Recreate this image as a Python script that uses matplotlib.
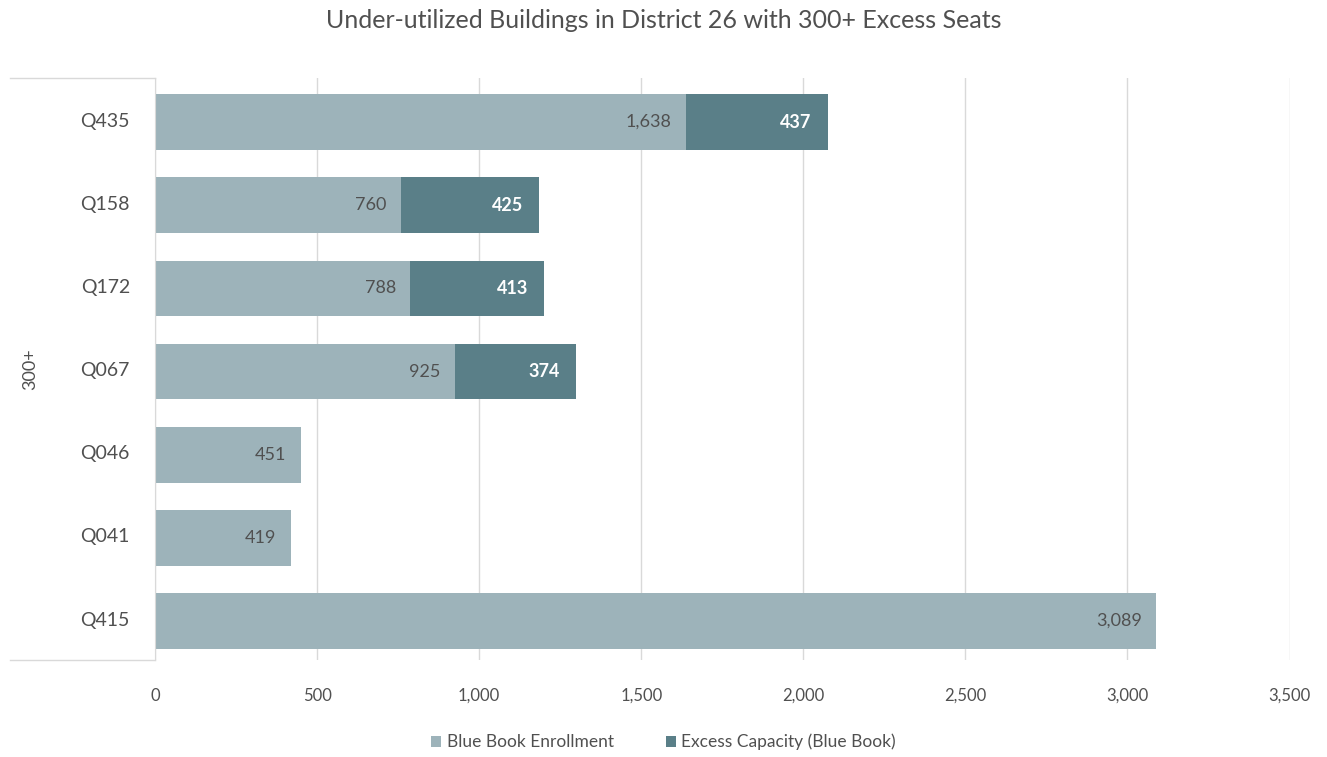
import numpy as np
import matplotlib.pyplot as plt
from matplotlib.lines import Line2D

plt.rcParams['font.family'] = ['Lato', 'DejaVu Sans']

# データ
buildings = ['Q435', 'Q158', 'Q172', 'Q067', 'Q046', 'Q041', 'Q415']
enrollment = [1638, 760, 788, 925, 451, 419, 3089]
excess = [437, 425, 413, 374, 0, 0, 0]
group_label = '300+'
xticks = [0, 500, 1000, 1500, 2000, 2500, 3000, 3500]

c_light = '#9db3ba'
c_dark = '#5a7f88'
txt = '#505050'

fig = plt.figure(figsize=(13.27, 7.57), dpi=100)
ax = fig.add_axes([0.1168, 0.128, 0.855, 0.769])

y = np.arange(len(buildings))
b1 = ax.barh(y + 0.03, enrollment, height=0.67, color=c_light, label='Blue Book Enrollment')
b2 = ax.barh(y + 0.03, excess, height=0.67, left=enrollment, color=c_dark,
             label='Excess Capacity (Blue Book)')

for i in range(len(buildings)):
    ax.text(enrollment[i] - 45, y[i] + 0.03, '{:,}'.format(enrollment[i]), ha='right',
            va='center', fontsize=13, color=txt)
    if excess[i] > 0:
        ax.text(enrollment[i] + excess[i] - 50, y[i] + 0.03, '{:,}'.format(excess[i]),
                ha='right', va='center', fontsize=13, color='white', fontweight='bold')

ax.set_ylim(len(buildings) - 0.5, -0.5)
ax.set_xlim(0, 3500)
ax.set_yticks(y)
ax.set_yticklabels(buildings, fontsize=14, color=txt)
ax.set_xticks(xticks)
ax.set_xticklabels(['{:,}'.format(v) for v in xticks], fontsize=12, color=txt)
ax.tick_params(axis='both', length=0)
ax.tick_params(axis='x', pad=20)
ax.tick_params(axis='y', pad=18)
ax.grid(axis='x', color='#d9d9d9', lw=1)
ax.set_axisbelow(True)
for s in ['top', 'right', 'bottom']:
    ax.spines[s].set_visible(False)
ax.spines['left'].set_color('#d9d9d9')

# 左側のグループ枠
xl = -0.128
for yy in [0, 1]:
    ax.add_line(Line2D([xl, 0], [yy, yy], transform=ax.transAxes, color='#d9d9d9',
                       lw=1, clip_on=False))
ax.text(-0.11, 0.5, group_label, transform=ax.transAxes, rotation=90, ha='center',
        va='center', fontsize=13, color=txt)

fig.suptitle('Under-utilized Buildings in District 26 with 300+ Excess Seats', y=0.988,
             fontsize=18, color=txt)

fig.legend(handles=[b1, b2], loc='lower center', bbox_to_anchor=(0.5, -0.012), ncol=2,
           frameon=False, fontsize=12.5, handlelength=0.6, handleheight=0.6,
           handletextpad=0.3, columnspacing=3, labelcolor=txt)

fig.savefig('out.png', dpi=100)
